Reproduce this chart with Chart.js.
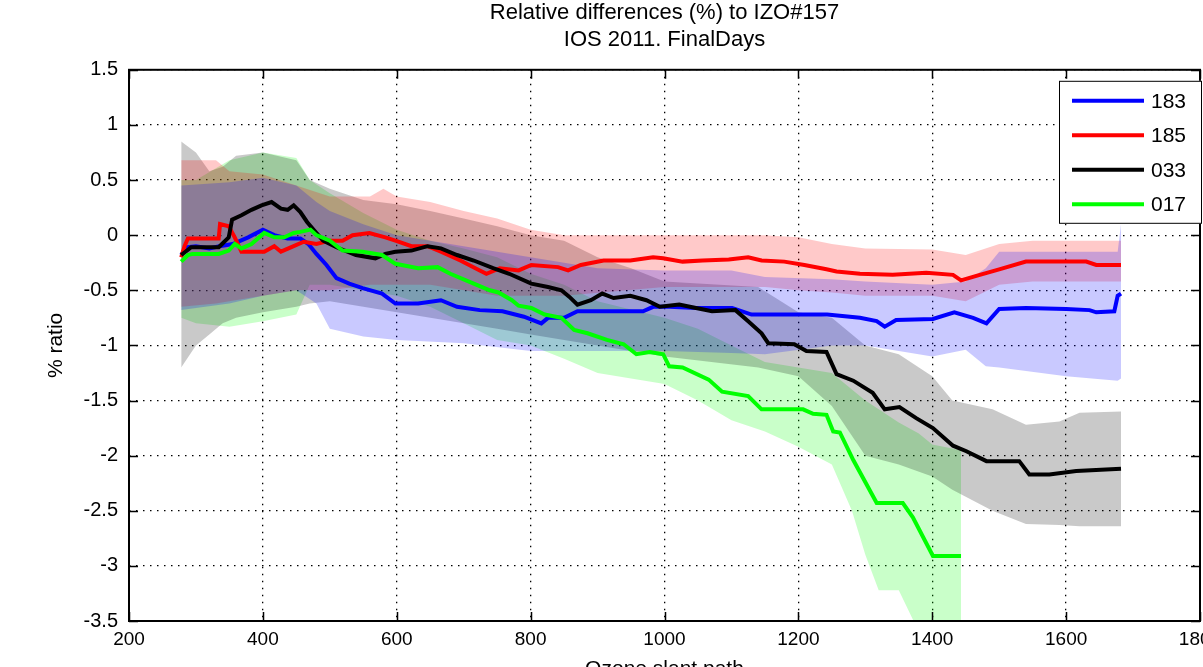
<!DOCTYPE html>
<html>
<head>
<meta charset="utf-8">
<title>Relative differences to IZO#157</title>
<script src="https://cdn.jsdelivr.net/npm/chart.js@4.4.1/dist/chart.umd.min.js"></script>
<style>
  html, body { margin: 0; padding: 0; background: #fff; overflow: hidden; }
  #wrap { width: 1203px; height: 667px; overflow: hidden; position: relative; background: #fff; }
  canvas { display: block; }
</style>
</head>
<body>
<div id="wrap"><canvas id="chart" width="1240" height="700"></canvas></div>
<script>
'use strict';

// ── Data ──────────────────────────────────────────────────────
const seriesNames  = ['183', '185', '033', '017'];
const seriesColors = ['#0000ff', '#ff0000', '#000000', '#00ff00'];
const bandColors   = ['rgba(0,0,255,0.21)', 'rgba(255,0,0,0.21)', 'rgba(0,0,0,0.21)', 'rgba(0,255,0,0.21)'];

const xTicks = [200, 400, 600, 800, 1000, 1200, 1400, 1600, 1800];
const yTicks = [1.5, 1, 0.5, 0, -0.5, -1, -1.5, -2, -2.5, -3, -3.5];

// 183
const x183 = [278, 285, 300, 320, 335, 355, 378, 400, 417, 437, 456, 468, 480, 495, 510, 529, 549, 578, 598, 632, 666, 690, 724, 758, 790, 816, 826, 850, 870, 968, 983, 1007, 1047, 1101, 1130, 1169, 1243, 1292, 1317, 1329, 1346, 1401, 1433, 1461, 1481, 1500, 1540, 1600, 1635, 1645, 1672, 1677, 1682];
const y183 = [-0.18, -0.11, -0.1, -0.12, -0.1, -0.08, -0.02, 0.05, 0.0, -0.03, -0.03, -0.08, -0.17, -0.27, -0.39, -0.44, -0.48, -0.53, -0.62, -0.62, -0.59, -0.65, -0.68, -0.69, -0.74, -0.8, -0.75, -0.75, -0.69, -0.69, -0.65, -0.65, -0.66, -0.66, -0.72, -0.72, -0.72, -0.75, -0.78, -0.83, -0.77, -0.76, -0.7, -0.75, -0.8, -0.67, -0.66, -0.67, -0.68, -0.7, -0.69, -0.55, -0.53];

// 185
const x185 = [278, 283, 288, 334, 336, 349, 358, 368, 402, 417, 427, 446, 461, 480, 500, 519, 534, 559, 583, 598, 622, 646, 666, 695, 724, 734, 754, 782, 801, 841, 856, 875, 909, 949, 983, 998, 1027, 1057, 1096, 1125, 1145, 1179, 1209, 1242, 1257, 1292, 1341, 1391, 1431, 1443, 1471, 1500, 1540, 1630, 1645, 1682];
const y185 = [-0.2, -0.1, -0.03, -0.03, 0.1, 0.08, -0.02, -0.15, -0.15, -0.1, -0.15, -0.1, -0.06, -0.08, -0.05, -0.05, 0.0, 0.02, -0.02, -0.05, -0.1, -0.1, -0.15, -0.23, -0.32, -0.35, -0.3, -0.32, -0.27, -0.29, -0.32, -0.27, -0.23, -0.23, -0.2, -0.21, -0.24, -0.23, -0.22, -0.2, -0.23, -0.24, -0.27, -0.31, -0.33, -0.35, -0.36, -0.34, -0.36, -0.41, -0.36, -0.31, -0.24, -0.24, -0.27, -0.27];

// 033
const x033 = [278, 293, 334, 339, 349, 354, 368, 383, 398, 413, 427, 437, 446, 456, 466, 480, 490, 510, 539, 568, 583, 598, 622, 646, 666, 690, 715, 744, 768, 801, 826, 846, 858, 870, 890, 907, 924, 949, 973, 993, 1022, 1047, 1071, 1106, 1125, 1145, 1155, 1194, 1212, 1242, 1257, 1282, 1311, 1329, 1351, 1376, 1401, 1431, 1451, 1481, 1530, 1545, 1575, 1615, 1682];
const y033 = [-0.18, -0.11, -0.11, -0.08, -0.02, 0.14, 0.18, 0.23, 0.27, 0.3, 0.24, 0.23, 0.27, 0.21, 0.12, 0.02, -0.05, -0.11, -0.18, -0.21, -0.17, -0.15, -0.14, -0.1, -0.12, -0.18, -0.23, -0.3, -0.35, -0.44, -0.47, -0.5, -0.56, -0.63, -0.59, -0.53, -0.57, -0.55, -0.59, -0.65, -0.63, -0.66, -0.69, -0.68, -0.78, -0.89, -0.98, -0.99, -1.05, -1.06, -1.26, -1.32, -1.43, -1.58, -1.56, -1.66, -1.75, -1.91, -1.96, -2.05, -2.05, -2.17, -2.17, -2.14, -2.12];

// 017
const x017 = [278, 288, 295, 334, 349, 358, 368, 383, 402, 417, 432, 446, 456, 471, 480, 500, 519, 549, 578, 598, 632, 661, 680, 715, 739, 752, 772, 782, 801, 821, 846, 865, 885, 914, 939, 958, 978, 998, 1007, 1027, 1066, 1086, 1125, 1145, 1194, 1207, 1222, 1242, 1252, 1262, 1282, 1317, 1356, 1371, 1401, 1443];
const y017 = [-0.24, -0.18, -0.17, -0.17, -0.14, -0.08, -0.12, -0.08, 0.02, -0.02, -0.02, 0.02, 0.03, 0.05, 0.0, -0.05, -0.14, -0.15, -0.18, -0.26, -0.3, -0.29, -0.35, -0.44, -0.5, -0.52, -0.59, -0.64, -0.66, -0.72, -0.75, -0.86, -0.89, -0.95, -0.99, -1.08, -1.06, -1.08, -1.19, -1.2, -1.31, -1.42, -1.46, -1.58, -1.58, -1.58, -1.62, -1.63, -1.78, -1.79, -2.04, -2.43, -2.43, -2.56, -2.91, -2.91];

// shaded spread bands (upper / lower)
const bx183 = [278, 350, 400, 450, 480, 500, 550, 600, 700, 800, 850, 900, 1000, 1100, 1150, 1250, 1300, 1400, 1450, 1480, 1500, 1600, 1677, 1682];
const bu183 = [0.45, 0.48, 0.52, 0.45, 0.3, 0.22, 0.1, 0.0, -0.1, -0.2, -0.25, -0.3, -0.32, -0.32, -0.38, -0.4, -0.42, -0.45, -0.42, -0.3, -0.15, -0.15, -0.15, 0.1];
const bl183 = [-0.68, -0.62, -0.55, -0.5, -0.62, -0.85, -0.92, -0.95, -0.98, -1.05, -1.05, -1.05, -1.05, -1.07, -1.08, -1.0, -1.0, -1.1, -1.04, -1.19, -1.2, -1.28, -1.32, -1.3];

const bx185 = [278, 330, 350, 400, 450, 500, 560, 580, 600, 650, 700, 750, 800, 850, 1000, 1150, 1200, 1250, 1300, 1400, 1450, 1500, 1550, 1682];
const bu185 = [0.68, 0.68, 0.58, 0.55, 0.45, 0.35, 0.35, 0.42, 0.35, 0.3, 0.22, 0.15, 0.05, 0.0, 0.0, 0.0, -0.02, -0.08, -0.12, -0.13, -0.18, -0.08, -0.05, -0.05];
const bl185 = [-0.65, -0.62, -0.6, -0.55, -0.5, -0.5, -0.45, -0.45, -0.45, -0.45, -0.5, -0.55, -0.55, -0.55, -0.47, -0.47, -0.5, -0.52, -0.55, -0.55, -0.6, -0.45, -0.42, -0.42];

const bx033 = [278, 300, 320, 340, 360, 400, 450, 470, 500, 550, 600, 650, 700, 750, 800, 850, 900, 950, 1000, 1140, 1200, 1250, 1300, 1350, 1400, 1430, 1490, 1540, 1590, 1620, 1682];
const bu033 = [0.85, 0.75, 0.58, 0.62, 0.72, 0.75, 0.68, 0.5, 0.42, 0.32, 0.28, 0.22, 0.15, 0.08, 0.0, -0.05, -0.2, -0.3, -0.42, -0.47, -0.7, -0.75, -1.0, -1.08, -1.28, -1.5, -1.58, -1.72, -1.69, -1.61, -1.6];
const bl033 = [-1.2, -1.0, -0.9, -0.8, -0.75, -0.7, -0.65, -0.62, -0.6, -0.65, -0.7, -0.75, -0.8, -0.85, -0.9, -0.95, -1.0, -1.05, -1.1, -1.2, -1.28, -1.55, -2.0, -2.08, -2.19, -2.31, -2.5, -2.62, -2.63, -2.64, -2.64];

const bx017 = [278, 300, 350, 400, 450, 470, 500, 550, 600, 650, 700, 750, 800, 850, 900, 1000, 1050, 1100, 1150, 1200, 1250, 1280, 1300, 1320, 1350, 1380, 1400, 1443];
const bu017 = [0.5, 0.5, 0.68, 0.75, 0.7, 0.5, 0.38, 0.2, 0.05, -0.05, -0.12, -0.2, -0.35, -0.45, -0.6, -0.75, -0.85, -1.0, -1.15, -1.2, -1.25, -1.4, -1.5, -1.58, -1.7, -1.8, -1.9, -1.95];
const bl017 = [-0.75, -0.8, -0.83, -0.78, -0.72, -0.45, -0.45, -0.5, -0.55, -0.65, -0.8, -0.95, -1.0, -1.12, -1.25, -1.35, -1.5, -1.68, -1.78, -1.92, -2.08, -2.5, -2.9, -3.22, -3.22, -3.6, -3.6, -3.6];

const lineX = [x183, x185, x033, x017];
const lineY = [y183, y185, y033, y017];
const bandX = [bx183, bx185, bx033, bx017];
const bandU = [bu183, bu185, bu033, bu017];
const bandL = [bl183, bl185, bl033, bl017];

const FONT = "'Liberation Sans', Arial, Helvetica, sans-serif";

function pts(xs, ys) { return xs.map((x, i) => ({ x: x, y: ys[i] })); }

// ── Datasets: lines first (drawn on top), then the bands ──────
const datasets = [];
for (let i = seriesNames.length - 1; i >= 0; i--) {
  datasets.push({
    label: seriesNames[i],
    data: pts(lineX[i], lineY[i]),
    borderColor: seriesColors[i],
    borderWidth: 4,
    pointRadius: 0,
    fill: false,
    tension: 0,
  });
}
for (let i = 0; i < seriesNames.length; i++) {
  datasets.push({
    label: seriesNames[i] + ' upper',
    data: pts(bandX[i], bandU[i]),
    borderWidth: 0,
    borderColor: 'rgba(0,0,0,0)',
    backgroundColor: bandColors[i],
    pointRadius: 0,
    fill: '+1',
  });
  datasets.push({
    label: seriesNames[i] + ' lower',
    data: pts(bandX[i], bandL[i]),
    borderWidth: 0,
    borderColor: 'rgba(0,0,0,0)',
    pointRadius: 0,
    fill: false,
  });
}

// ── Axes box, inward ticks and the boxed legend ───────────────
const matlabAxes = {
  id: 'matlabAxes',
  beforeDraw(chart) {
    const ctx = chart.ctx;
    ctx.save();
    ctx.fillStyle = '#fff';
    ctx.fillRect(0, 0, chart.width, chart.height);
    ctx.restore();
  },
  afterDraw(chart) {
    const { ctx, chartArea: a, scales } = chart;
    ctx.save();
    ctx.strokeStyle = '#000';
    ctx.lineWidth = 2;
    ctx.strokeRect(a.left, a.top, a.right - a.left, a.bottom - a.top);

    ctx.lineWidth = 1.5;
    ctx.beginPath();
    xTicks.forEach(v => {
      const px = Math.round(scales.x.getPixelForValue(v)) + 0.5;
      ctx.moveTo(px, a.bottom); ctx.lineTo(px, a.bottom - 9);
      ctx.moveTo(px, a.top);    ctx.lineTo(px, a.top + 9);
    });
    yTicks.forEach(v => {
      const py = Math.round(scales.y.getPixelForValue(v)) + 0.5;
      ctx.moveTo(a.left, py);  ctx.lineTo(a.left + 9, py);
      ctx.moveTo(a.right, py); ctx.lineTo(a.right - 9, py);
    });
    ctx.stroke();

    // legend
    const bw = 143, bh = 143;
    const bxl = a.right + 2 - bw, byt = a.top + 11;
    ctx.fillStyle = '#fff';
    ctx.fillRect(bxl, byt, bw, bh);
    ctx.lineWidth = 1;
    ctx.strokeStyle = '#000';
    ctx.strokeRect(bxl + 0.5, byt + 0.5, bw - 1, bh - 1);
    ctx.font = '21px ' + FONT;
    ctx.textBaseline = 'middle';
    ctx.textAlign = 'left';
    seriesNames.forEach((name, i) => {
      const ly = byt + 20 + i * 34.5;
      ctx.strokeStyle = seriesColors[i];
      ctx.lineWidth = 4;
      ctx.beginPath();
      ctx.moveTo(bxl + 13, ly); ctx.lineTo(bxl + 85, ly);
      ctx.stroke();
      ctx.fillStyle = '#000';
      ctx.fillText(name, bxl + 92, ly + 1);
    });
    ctx.restore();
  }
};

new Chart(document.getElementById('chart'), {
  type: 'line',
  data: { datasets: datasets },
  plugins: [matlabAxes],
  options: {
    responsive: false,
    devicePixelRatio: 1,
    animation: false,
    layout: { padding: { left: 0, right: 40, top: 0, bottom: 0 } },
    plugins: {
      legend: { display: false },
      tooltip: { enabled: false },
      title: {
        display: true,
        fullSize: false,
        text: ['Relative differences (%) to IZO#157', 'IOS 2011. FinalDays'],
        color: '#000',
        font: { family: FONT, size: 22, weight: 'normal', lineHeight: 1.2 },
        padding: { top: 0, bottom: 17 },
      },
    },
    scales: {
      x: {
        type: 'linear',
        min: 200, max: 1800,
        afterBuildTicks: s => { s.ticks = xTicks.map(v => ({ value: v })); },
        ticks: {
          color: '#000', padding: 7, maxRotation: 0, autoSkip: false,
          font: { family: FONT, size: 19 },
          callback: v => String(v),
        },
        grid: { color: '#000', lineWidth: 1.3, drawTicks: false },
        border: { display: false, dash: [1.5, 5.5] },
        title: {
          display: true, text: 'Ozone slant path', color: '#000',
          font: { family: FONT, size: 21, lineHeight: 1.2 },
          padding: { top: 0, bottom: 18 },
        },
        afterFit: s => { s.height = 79; },
      },
      y: {
        type: 'linear',
        min: -3.5, max: 1.5,
        afterBuildTicks: s => { s.ticks = yTicks.map(v => ({ value: v })); },
        ticks: {
          color: '#000', padding: 11,
          font: { family: FONT, size: 20 },
          callback: v => String(Math.round(v * 10) / 10),
        },
        grid: { color: '#000', lineWidth: 1.3, drawTicks: false },
        border: { display: false, dash: [1.5, 5.5] },
        title: {
          display: true, text: '% ratio', color: '#000',
          font: { family: FONT, size: 21, lineHeight: 1.2 },
          padding: { top: 44, bottom: 0 },
        },
        afterFit: s => { s.width = 129; },
      },
    },
  },
});
</script>
</body>
</html>
